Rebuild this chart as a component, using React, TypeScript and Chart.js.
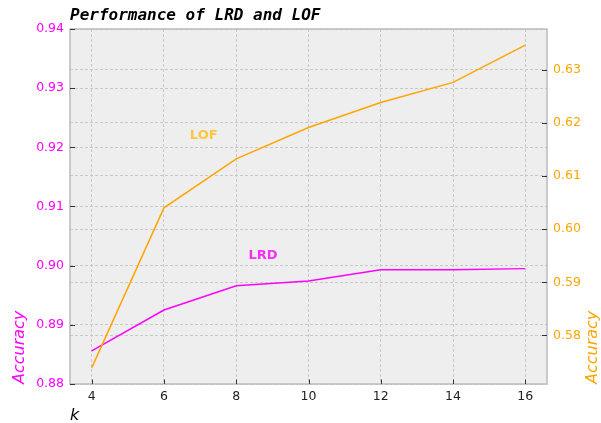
import React, { useEffect, useRef } from "react";
import { Chart, registerables } from "chart.js";

Chart.register(...registerables);

// k values on the horizontal axis
const kValues = [4, 6, 8, 10, 12, 14, 16];
// Accuracy of the LRD-based detector (left axis)
const lrdAccuracy = [0.8856, 0.8925, 0.8966, 0.8974, 0.8993, 0.8993, 0.8995];
// Accuracy of the LOF-based detector (right axis)
const lofAccuracy = [0.5739, 0.604, 0.6132, 0.6191, 0.6238, 0.6276, 0.6346];

const kTicks = [4, 6, 8, 10, 12, 14, 16];
const lrdTicks = [0.88, 0.89, 0.9, 0.91, 0.92, 0.93, 0.94];
const lofTicks = [0.58, 0.59, 0.6, 0.61, 0.62, 0.63];
const lrdLimits = [0.88, 0.94];

const TITLE = "Performance of LRD and LOF";
const MAGENTA = "#ff00ff";
const ORANGE = "#ffa500";
const GRID = "#c8c8c8";
const TICK_FONT = { family: "'DejaVu Sans', sans-serif", size: 12.5 };

// autoscale limits with a 5% margin on each side
function padded(values: number[], frac = 0.05): [number, number] {
  const lo = Math.min(...values);
  const hi = Math.max(...values);
  const m = (hi - lo) * frac;
  return [lo - m, hi + m];
}

const [kMin, kMax] = padded(kValues);
const [lofMin, lofMax] = padded(lofAccuracy);

const decorations = {
  id: "decorations",
  beforeDraw(chart: any) {
    const { ctx, chartArea: a } = chart;
    ctx.save();
    ctx.fillStyle = "#eeeeee";
    ctx.fillRect(a.left, a.top, a.right - a.left, a.bottom - a.top);
    ctx.restore();
  },
  afterDraw(chart: any) {
    const { ctx, chartArea: a, scales } = chart;
    const x = scales.x;
    const yL = scales.y;
    const yR = scales.y1;
    ctx.save();

    // frame
    ctx.strokeStyle = "#bcbcbc";
    ctx.lineWidth = 1.5;
    ctx.strokeRect(a.left, a.top, a.right - a.left, a.bottom - a.top);

    // inward tick marks
    ctx.strokeStyle = "#333333";
    ctx.lineWidth = 1;
    ctx.beginPath();
    for (const v of lrdTicks) {
      const py = Math.round(yL.getPixelForValue(v)) + 0.5;
      ctx.moveTo(a.left, py);
      ctx.lineTo(a.left + 5, py);
    }
    for (const v of lofTicks) {
      const py = Math.round(yR.getPixelForValue(v)) + 0.5;
      ctx.moveTo(a.right, py);
      ctx.lineTo(a.right - 5, py);
    }
    for (const v of kTicks) {
      const px = Math.round(x.getPixelForValue(v)) + 0.5;
      ctx.moveTo(px, a.bottom);
      ctx.lineTo(px, a.bottom - 4.5);
    }
    ctx.stroke();

    // series labels inside the plot
    ctx.font = "bold 13px 'DejaVu Sans', sans-serif";
    ctx.textAlign = "center";
    ctx.textBaseline = "middle";
    ctx.fillStyle = "#ffc53d";
    ctx.fillText("LOF", x.getPixelForValue(7.1), yL.getPixelForValue(0.922));
    ctx.fillStyle = "#f531f5";
    ctx.fillText("LRD", x.getPixelForValue(8.74), yL.getPixelForValue(0.9017));

    // title
    ctx.fillStyle = "#000000";
    ctx.textAlign = "left";
    ctx.textBaseline = "alphabetic";
    ctx.font = "italic bold 16px 'DejaVu Sans Mono', monospace";
    ctx.fillText(TITLE, a.left, 20);

    // axis titles
    ctx.font = "italic 16px 'DejaVu Sans', sans-serif";
    ctx.fillStyle = MAGENTA;
    ctx.save();
    ctx.translate(24, a.bottom);
    ctx.rotate(-Math.PI / 2);
    ctx.fillText("Accuracy", 0, 0);
    ctx.restore();

    ctx.fillStyle = ORANGE;
    ctx.save();
    ctx.translate(597, a.bottom);
    ctx.rotate(-Math.PI / 2);
    ctx.fillText("Accuracy", 0, 0);
    ctx.restore();

    ctx.fillStyle = "#000000";
    ctx.fillText("k", a.left, 420);

    ctx.restore();
  },
};

export default function App() {
  const ref = useRef<HTMLCanvasElement>(null);

  useEffect(() => {
    if (!ref.current) return;
    const chart = new Chart(ref.current, {
      type: "line",
      data: {
        datasets: [
          {
            label: "LOF",
            data: kValues.map((k, i) => ({ x: k, y: lofAccuracy[i] })),
            yAxisID: "y1",
            borderColor: ORANGE,
            borderWidth: 1.5,
            pointRadius: 0,
            tension: 0,
            fill: false,
          },
          {
            label: "LRD",
            data: kValues.map((k, i) => ({ x: k, y: lrdAccuracy[i] })),
            yAxisID: "y",
            borderColor: MAGENTA,
            borderWidth: 1.5,
            pointRadius: 0,
            tension: 0,
            fill: false,
          },
        ],
      },
      options: {
        responsive: false,
        animation: false,
        devicePixelRatio: 1,
        layout: { padding: { top: 29, left: 0, right: 0, bottom: 0 } },
        plugins: {
          legend: { display: false },
          tooltip: { enabled: false },
          title: { display: false },
        },
        scales: {
          x: {
            type: "linear",
            min: kMin,
            max: kMax,
            afterBuildTicks: (s: any) => {
              s.ticks = kTicks.map((v) => ({ value: v }));
            },
            afterFit: (s: any) => {
              s.height = 39;
            },
            grid: { color: GRID, lineWidth: 1, drawTicks: false },
            border: { display: false, dash: [3, 2] },
            ticks: {
              color: "#222222",
              font: TICK_FONT,
              padding: 5,
              maxRotation: 0,
              autoSkip: false,
              callback: (v: any) => String(v),
            },
          },
          y: {
            type: "linear",
            position: "left",
            min: lrdLimits[0],
            max: lrdLimits[1],
            afterBuildTicks: (s: any) => {
              s.ticks = lrdTicks.map((v) => ({ value: v }));
            },
            afterFit: (s: any) => {
              s.width = 70;
            },
            grid: { color: GRID, lineWidth: 1, drawTicks: false },
            border: { display: false, dash: [3, 2] },
            ticks: {
              color: MAGENTA,
              font: TICK_FONT,
              padding: 6,
              autoSkip: false,
              callback: (v: any) => Number(v).toFixed(2),
            },
          },
          y1: {
            type: "linear",
            position: "right",
            min: lofMin,
            max: lofMax,
            afterBuildTicks: (s: any) => {
              s.ticks = lofTicks.map((v) => ({ value: v }));
            },
            afterFit: (s: any) => {
              s.width = 54;
            },
            grid: { color: GRID, lineWidth: 1, drawTicks: false },
            border: { display: false, dash: [3, 2] },
            ticks: {
              color: ORANGE,
              font: TICK_FONT,
              padding: 6,
              autoSkip: false,
              callback: (v: any) => Number(v).toFixed(2),
            },
          },
        },
      },
      plugins: [decorations],
    } as any);
    return () => chart.destroy();
  }, []);

  return (
    <div
      style={{
        position: "absolute",
        left: 0,
        top: 0,
        width: 601,
        height: 423,
        background: "#ffffff",
      }}
    >
      <canvas
        ref={ref}
        width={601}
        height={423}
        style={{ display: "block", width: 601, height: 423 }}
      />
    </div>
  );
}
